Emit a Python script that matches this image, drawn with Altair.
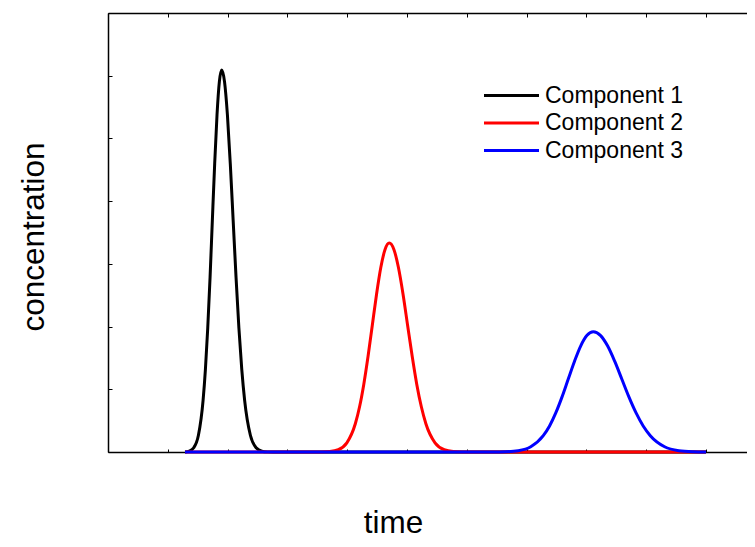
import altair as alt
import pandas as pd

names = ["Component 1", "Component 2", "Component 3"]
colors = ["#000000", "#ff0000", "#0000ff"]

black_t = [1.288, 1.357, 1.434, 1.512, 1.590, 1.629, 1.668, 1.707, 1.745, 1.784, 1.823, 1.862, 1.901,
           1.949, 1.997, 2.045, 2.093, 2.141, 2.189, 2.237, 2.285, 2.381, 2.477, 2.573, 2.669, 2.75, 10.0]
black_c = [0.0, 0.013, 0.068, 0.267, 0.824, 1.317, 1.977, 2.788, 3.694, 4.597, 5.374, 5.902, 6.09,
           5.902, 5.374, 4.597, 3.694, 2.788, 1.977, 1.317, 0.824, 0.267, 0.068, 0.013, 0.002, 0.0, 0.0]

red_t = [1.288, 3.568, 3.710, 3.852, 3.994, 4.136, 4.207, 4.278, 4.349, 4.420, 4.491, 4.562, 4.633, 4.704,
         4.781, 4.857, 4.934, 5.010, 5.087, 5.163, 5.240, 5.316, 5.469, 5.622, 5.775, 5.928, 10.0]
red_c = [0.0, 0.001, 0.007, 0.037, 0.146, 0.451, 0.721, 1.082, 1.526, 2.022, 2.516, 2.941, 3.230, 3.333,
         3.230, 2.941, 2.516, 2.022, 1.526, 1.082, 0.721, 0.451, 0.146, 0.037, 0.007, 0.001, 0.0]

blue_t = [1.288, 6.443, 6.652, 6.861, 7.070, 7.279, 7.384, 7.488, 7.593, 7.697, 7.802, 7.906, 8.011, 8.115,
          8.234, 8.354, 8.473, 8.592, 8.711, 8.831, 8.950, 9.069, 9.308, 9.546, 9.785, 10.0]
blue_c = [0.0, 0.001, 0.004, 0.021, 0.084, 0.260, 0.415, 0.623, 0.879, 1.164, 1.448, 1.693, 1.860, 1.919,
          1.860, 1.693, 1.448, 1.164, 0.879, 0.623, 0.415, 0.260, 0.084, 0.021, 0.004, 0.0]

x_ticks = [0, 1, 2, 3, 4, 5, 6, 7, 8, 9, 10]
y_ticks = [0, 1, 2, 3, 4, 5, 6, 7]

rows = []
for name, ts, cs in [(names[0], black_t, black_c), (names[1], red_t, red_c), (names[2], blue_t, blue_c)]:
    for t, c in zip(ts, cs):
        rows.append({"component": name, "time": t, "concentration": c})
df = pd.DataFrame(rows)

x_scale = alt.Scale(domain=[0, 10.686], nice=False, zero=False)
y_scale = alt.Scale(domain=[0, 7], nice=False)

base = alt.Chart(df)

lines = base.mark_line(strokeWidth=3, interpolate="monotone").encode(
    x=alt.X("time:Q", scale=x_scale,
            axis=alt.Axis(orient="bottom", title="time", values=x_ticks, labels=False,
                          tickSize={"expr": "-3"}, tickColor="black", domainColor="black",
                          domainWidth=1.5, grid=False, titleFontSize=31.5, titleFontWeight="normal",
                          titleColor="black", titleX=285, titleY=80, titleAlign="center",
                          titleBaseline="alphabetic")),
    y=alt.Y("concentration:Q", scale=y_scale,
            axis=alt.Axis(orient="left", title="concentration", values=y_ticks, labels=False,
                          tickSize={"expr": "-4"}, tickColor="black", domainColor="black",
                          domainWidth=1.5, grid=False, titleFontSize=31.5, titleFontWeight="normal",
                          titleColor="black", titleX=-65, titleY=223.5, titleAngle=270,
                          titleAlign="center", titleBaseline="alphabetic")),
    color=alt.Color("component:N", scale=alt.Scale(domain=names, range=colors),
                    legend=alt.Legend(orient="none", legendX=392, legendY=71, title=None,
                                      symbolType="M-5,0H5", symbolSize=121, symbolStrokeWidth=3,
                                      labelFontSize=23, labelColor="black", labelOffset=22,
                                      rowPadding=3.5)),
)

top = base.mark_point(opacity=0).encode(
    x=alt.X("time:Q", scale=x_scale,
            axis=alt.Axis(orient="top", title=None, values=x_ticks, labels=False,
                          tickSize={"expr": "-4"}, tickColor="black", domainColor="black",
                          domainWidth=1.5, grid=False)),
)

chart = alt.layer(lines, top).resolve_axis(x="independent").properties(
    width=639, height=439,
    padding={"left": 100, "top": 5, "right": 0, "bottom": 87},
    autosize=alt.AutoSizeParams(type="none"),
).configure(font="Liberation Sans").configure_view(stroke=None)

chart.save("out.html", embed_options={"renderer": "svg", "actions": False})
